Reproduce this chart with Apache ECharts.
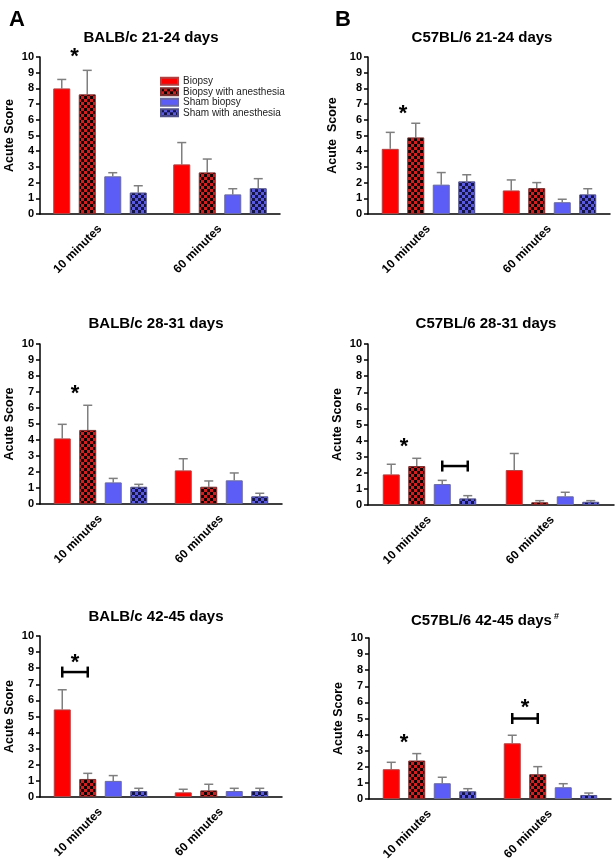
<!DOCTYPE html>
<html><head><meta charset="utf-8">
<script src="https://cdn.jsdelivr.net/npm/echarts@6/dist/echarts.min.js"></script>
<style>html,body{margin:0;padding:0;background:#fff}#c{width:616px;height:864px}</style>
</head><body><div id="c"></div>
<script>
// ---- data ----
const categories = ['10 minutes', '60 minutes'];
const groups = ['Biopsy', 'Biopsy with anesthesia', 'Sham biopsy', 'Sham with anesthesia'];
const panelTitles = ['BALB/c 21-24 days', 'C57BL/6 21-24 days', 'BALB/c 28-31 days',
                     'C57BL/6 28-31 days', 'BALB/c 42-45 days', 'C57BL/6 42-45 days{sup|#}'];
const yTicks = [0, 10, 1]; // min, max, interval
// means: [group][category]
const balb21Mean = [[8.0, 3.16], [7.62, 2.65], [2.4, 1.25], [1.37, 1.64]];
const balb21Sem  = [[0.57, 1.39], [1.53, 0.85], [0.23, 0.36], [0.43, 0.61]];
const c57b21Mean = [[4.15, 1.5], [4.88, 1.65], [1.87, 0.75], [2.08, 1.25]];
const c57b21Sem  = [[1.05, 0.67], [0.9, 0.35], [0.77, 0.19], [0.42, 0.36]];
const balb28Mean = [[4.1, 2.1], [4.63, 1.08], [1.35, 1.48], [1.08, 0.48]];
const balb28Sem  = [[0.88, 0.73], [1.54, 0.36], [0.25, 0.46], [0.15, 0.19]];
const c57b28Mean = [[1.9, 2.17], [2.42, 0.17], [1.3, 0.54], [0.41, 0.2]];
const c57b28Sem  = [[0.63, 1.03], [0.48, 0.1], [0.23, 0.25], [0.17, 0.07]];
const balb42Mean = [[5.44, 0.29], [1.12, 0.41], [1.0, 0.37], [0.37, 0.37]];
const balb42Sem  = [[1.22, 0.19], [0.35, 0.38], [0.33, 0.17], [0.17, 0.17]];
const c57b42Mean = [[1.85, 3.46], [2.39, 1.54], [0.98, 0.73], [0.48, 0.25]];
const c57b42Sem  = [[0.43, 0.5], [0.43, 0.47], [0.37, 0.22], [0.16, 0.12]];
// significance marks: [category, y value, kind (0 star, 1 bracket), fromBar, toBar]
const balb21Marks = [[0, 10.3, 0, 0, 1]];
const c57b21Marks = [[0, 6.7, 0, 0, 1]];
const balb28Marks = [[0, 7.2, 0, 0, 1]];
const c57b28Marks = [[0, 3.93, 0, 0, 1], [0, 2.42, 1, 2, 3]];
const balb42Marks = [[0, 8.63, 0, 0, 1], [0, 7.76, 1, 0, 1]];
const c57b42Marks = [[0, 3.78, 0, 0, 1], [1, 5.95, 0, 0, 1], [1, 5.0, 1, 0, 1]];

const panelMeans = [balb21Mean, c57b21Mean, balb28Mean, c57b28Mean, balb42Mean, c57b42Mean];
const panelSems = [balb21Sem, c57b21Sem, balb28Sem, c57b28Sem, balb42Sem, c57b42Sem];
const panelMarks = [balb21Marks, c57b21Marks, balb28Marks, c57b28Marks, balb42Marks, c57b42Marks];

// ---- layout / style ----
const FONT = 'Liberation Sans, Arial, sans-serif';
const grids = [
  {left: 40, top: 57, width: 240, height: 157},
  {left: 368, top: 57, width: 242, height: 157},
  {left: 40, top: 344, width: 242, height: 160},
  {left: 368, top: 344, width: 246, height: 161},
  {left: 40, top: 636, width: 242, height: 161},
  {left: 369, top: 638, width: 242, height: 161}
];
const titlePos = [[146, 25], [477, 25], [151, 311], [481, 311], [151, 604], [480, 607]];
const nameGaps = [24, 29, 24, 24, 24, 24];
const BAR_W = 17, PITCH = 17 * 1.5;

function checker(bg, fg, cell) {
  const c = document.createElement('canvas');
  c.width = cell * 2; c.height = cell * 2;
  const g = c.getContext('2d');
  g.fillStyle = bg; g.fillRect(0, 0, cell * 2, cell * 2);
  g.fillStyle = fg; g.fillRect(0, 0, cell, cell); g.fillRect(cell, cell, cell, cell);
  return c;
}
const groupStyles = [
  {color: '#ff0000', borderColor: '#b34040', borderWidth: 1},
  {color: {image: checker('#d21e1e', '#120000', 3), repeat: 'repeat'}, borderColor: '#7a3030', borderWidth: 1},
  {color: '#5c5cf6', borderColor: '#6a6aa0', borderWidth: 1},
  {color: {image: checker('#5a5ae0', '#14144a', 3), repeat: 'repeat'}, borderColor: '#50508a', borderWidth: 1}
];

const option = {
  animation: false,
  backgroundColor: '#fff',
  title: [
    {text: 'A', left: 4, top: 4, textStyle: {fontFamily: FONT, fontWeight: 'bold', fontSize: 22, color: '#000'}},
    {text: 'B', left: 330, top: 4, textStyle: {fontFamily: FONT, fontWeight: 'bold', fontSize: 22, color: '#000'}}
  ].concat(panelTitles.map((t, i) => ({
    text: t, left: titlePos[i][0], top: titlePos[i][1], textAlign: 'center',
    textStyle: {fontFamily: FONT, fontWeight: 'bold', fontSize: 15, color: '#000',
      rich: {sup: {fontFamily: FONT, fontWeight: 'bold', fontSize: 9, color: '#000', verticalAlign: 'top', padding: [0, 0, 8, 2]}}}
  }))),
  legend: {
    orient: 'vertical', left: 155, top: 71, itemWidth: 17, itemHeight: 7, itemGap: 0,
    selectedMode: false, icon: 'rect', data: groups,
    textStyle: {fontFamily: FONT, fontSize: 10, color: '#222', lineHeight: 10.5, padding: [0, 0, 0, 0]}
  },
  grid: grids,
  xAxis: grids.map((g, i) => ({
    type: 'category', gridIndex: i, data: categories,
    axisLine: {lineStyle: {color: '#000', width: 1.5}},
    axisTick: {alignWithLabel: true, length: 5, lineStyle: {color: '#000', width: 1.5}},
    axisLabel: {rotate: 45, margin: 13, fontFamily: FONT, fontWeight: 'bold', fontSize: 12, color: '#000'}
  })),
  yAxis: grids.map((g, i) => ({
    type: 'value', gridIndex: i, min: yTicks[0], max: yTicks[1], interval: yTicks[2],
    name: i === 1 ? 'Acute  Score' : 'Acute Score', nameLocation: 'middle', nameGap: nameGaps[i],
    nameTextStyle: {fontFamily: FONT, fontWeight: 'bold', fontSize: 12.5, color: '#000'},
    axisLine: {show: true, lineStyle: {color: '#000', width: 1.5}},
    axisTick: {show: true, length: 4, lineStyle: {color: '#000', width: 1.5}},
    splitLine: {show: false},
    axisLabel: {margin: 6, fontFamily: FONT, fontWeight: 'bold', fontSize: 11, color: '#000'}
  })),
  series: []
};

panelMeans.forEach((means, p) => {
  groups.forEach((name, g) => {
    option.series.push({
      type: 'bar', name: name, xAxisIndex: p, yAxisIndex: p,
      data: means[g], barWidth: BAR_W, barGap: '50%',
      itemStyle: groupStyles[g], z: 2, silent: true
    });
  });
  const errData = [];
  groups.forEach((name, g) => {
    categories.forEach((c, ci) => {
      errData.push([ci, means[g][ci], means[g][ci] + panelSems[p][g][ci], g]);
    });
  });
  option.series.push({
    type: 'custom', xAxisIndex: p, yAxisIndex: p, data: errData, z: 1, silent: true,
    renderItem: function (params, api) {
      const b = api.coord([api.value(0), api.value(1)]);
      const t = api.coord([api.value(0), api.value(2)]);
      const x = b[0] + (api.value(3) - 1.5) * PITCH;
      const st = {stroke: '#7f7f7f', lineWidth: 1.5};
      return {type: 'group', children: [
        {type: 'line', shape: {x1: x, y1: b[1], x2: x, y2: t[1]}, style: st},
        {type: 'line', shape: {x1: x - 4.5, y1: t[1], x2: x + 4.5, y2: t[1]}, style: st}
      ]};
    }
  });
  option.series.push({
    type: 'custom', xAxisIndex: p, yAxisIndex: p, data: panelMarks[p], z: 4, silent: true,
    renderItem: function (params, api) {
      const c = api.coord([api.value(0), api.value(1)]);
      const x1 = c[0] + (api.value(3) - 1.5) * PITCH;
      const x2 = c[0] + (api.value(4) - 1.5) * PITCH;
      if (api.value(2) === 0) {
        return {type: 'text', style: {text: '*', x: (x1 + x2) / 2, y: c[1] + 5,
          textAlign: 'center', textVerticalAlign: 'middle',
          font: 'bold 22px ' + FONT, fill: '#000'}};
      }
      const st = {stroke: '#000', lineWidth: 2.5};
      return {type: 'group', children: [
        {type: 'line', shape: {x1: x1, y1: c[1], x2: x2, y2: c[1]}, style: st},
        {type: 'line', shape: {x1: x1, y1: c[1] - 5.5, x2: x1, y2: c[1] + 5.5}, style: st},
        {type: 'line', shape: {x1: x2, y1: c[1] - 5.5, x2: x2, y2: c[1] + 5.5}, style: st}
      ]};
    }
  });
});

const chart = echarts.init(document.getElementById('c'), null, {renderer: 'canvas'});
chart.setOption(option);
</script>
</body></html>
